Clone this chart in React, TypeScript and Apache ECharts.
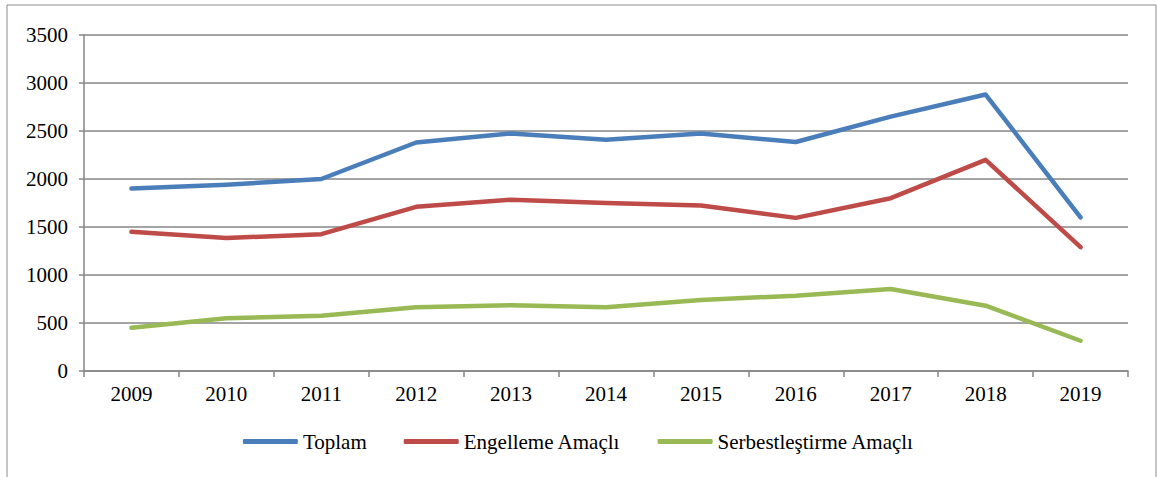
import React, { useEffect, useRef } from "react";
import * as echarts from "echarts";

const years = ["2009", "2010", "2011", "2012", "2013", "2014", "2015", "2016", "2017", "2018", "2019"];
const toplam = [1900, 1940, 2000, 2380, 2475, 2410, 2475, 2385, 2650, 2880, 1600];
const engelleme = [1450, 1385, 1425, 1710, 1785, 1750, 1725, 1595, 1800, 2200, 1290];
const serbest = [450, 550, 575, 665, 685, 665, 740, 785, 855, 680, 315];
const seriesNames = ["Toplam", "Engelleme Amaçlı", "Serbestleştirme Amaçlı"];
const colors = ["#4a7ebb", "#be4b48", "#98b954"];

export default function App() {
  const ref = useRef<HTMLDivElement>(null);
  useEffect(() => {
    document.body.style.margin = "0";
    const chart = echarts.init(ref.current!, null, { renderer: "svg" });
    const font = "Liberation Serif, serif";
    const gray = "#868686";
    chart.setOption({
      animation: false,
      textStyle: { fontFamily: font },
      graphic: [
        {
          type: "rect",
          shape: { x: 7, y: 5, width: 1149, height: 500 },
          style: { fill: "none", stroke: "#8c8c8c", lineWidth: 1 },
          silent: true,
        },
      ],
      grid: { left: 84, right: 29, top: 35, bottom: 106 },
      legend: {
        bottom: 20,
        left: "center",
        itemWidth: 55,
        itemHeight: 5,
        itemGap: 37,
        icon: "roundRect",
        textStyle: { fontFamily: font, fontSize: 21, color: "#000" },
        data: seriesNames,
      },
      xAxis: {
        type: "category",
        data: years,
        boundaryGap: true,
        axisLine: { lineStyle: { color: gray, width: 1.5 } },
        axisTick: { show: true, length: 6, lineStyle: { color: gray, width: 1.5 } },
        axisLabel: { fontFamily: font, fontSize: 21, color: "#000", margin: 12 },
      },
      yAxis: {
        type: "value",
        min: 0,
        max: 3500,
        interval: 500,
        axisLine: { show: true, lineStyle: { color: gray, width: 1.5 } },
        axisTick: { show: true, length: 5, lineStyle: { color: gray, width: 1.5 } },
        axisLabel: { fontFamily: font, fontSize: 21, color: "#000", margin: 16, formatter: (v: number) => String(v) },
        splitLine: { lineStyle: { color: gray, width: 1.5 } },
      },
      series: [toplam, engelleme, serbest].map((d, i) => ({
        name: seriesNames[i],
        type: "line",
        data: d,
        symbol: "none",
        color: colors[i],
        lineStyle: { width: 4.5, color: colors[i], cap: "round", join: "round" },
      })),
    });
    return () => chart.dispose();
  }, []);
  return <div ref={ref} style={{ width: 1157, height: 477 }} />;
}
